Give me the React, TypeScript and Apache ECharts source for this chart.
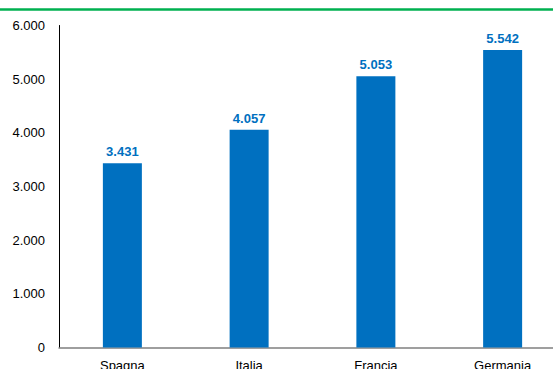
import React, { useEffect, useRef } from "react";
import * as echarts from "echarts";

const categories = ["Spagna", "Italia", "Francia", "Germania"];
const values = [3431, 4057, 5053, 5542];
const yTicks = [0, 1000, 2000, 3000, 4000, 5000, 6000];

const fmt = (v: number) =>
  String(Math.round(v)).replace(/\B(?=(\d{3})+(?!\d))/g, ".");

export default function App() {
  const ref = useRef<HTMLDivElement>(null);
  useEffect(() => {
    document.body.style.margin = "0";
    const chart = echarts.init(ref.current!, null, { renderer: "svg" });
    chart.setOption({
      animation: false,
      backgroundColor: "#ffffff",
      grid: {
        left: 59,
        top: 25.5,
        bottom: 21.5,
        width: 507,
        containLabel: false,
        outerBoundsMode: "none",
      },
      graphic: [
        {
          type: "line",
          shape: { x1: 0, y1: 9.5, x2: 553, y2: 9.5 },
          style: { stroke: "#00B050", lineWidth: 2.5 },
          silent: true,
        },
      ],
      xAxis: {
        type: "category",
        data: categories,
        axisLine: { show: true, lineStyle: { color: "#7f7f7f", width: 1.5 } },
        axisTick: { show: false },
        axisLabel: {
          color: "#000000",
          fontFamily: "Liberation Sans, Arial, sans-serif",
          fontSize: 13,
          margin: 11,
        },
        splitLine: { show: false },
      },
      yAxis: {
        type: "value",
        min: yTicks[0],
        max: yTicks[yTicks.length - 1],
        interval: 1000,
        axisLine: { show: true, lineStyle: { color: "#000000", width: 1 } },
        axisTick: { show: false },
        splitLine: { show: false },
        axisLabel: {
          color: "#000000",
          fontFamily: "Liberation Sans, Arial, sans-serif",
          fontSize: 13,
          margin: 14,
          formatter: (v: number) => fmt(v),
        },
      },
      series: [
        {
          type: "bar",
          data: values,
          barWidth: 39,
          itemStyle: { color: "#0070C0" },
          label: {
            show: true,
            position: "top",
            distance: 5,
            color: "#0070C0",
            fontWeight: "bold",
            fontSize: 13,
            fontFamily: "Liberation Sans, Arial, sans-serif",
            formatter: (p: any) => fmt(p.value),
          },
        },
      ],
    });
    return () => chart.dispose();
  }, []);
  return <div ref={ref} style={{ width: 553, height: 369 }} />;
}
